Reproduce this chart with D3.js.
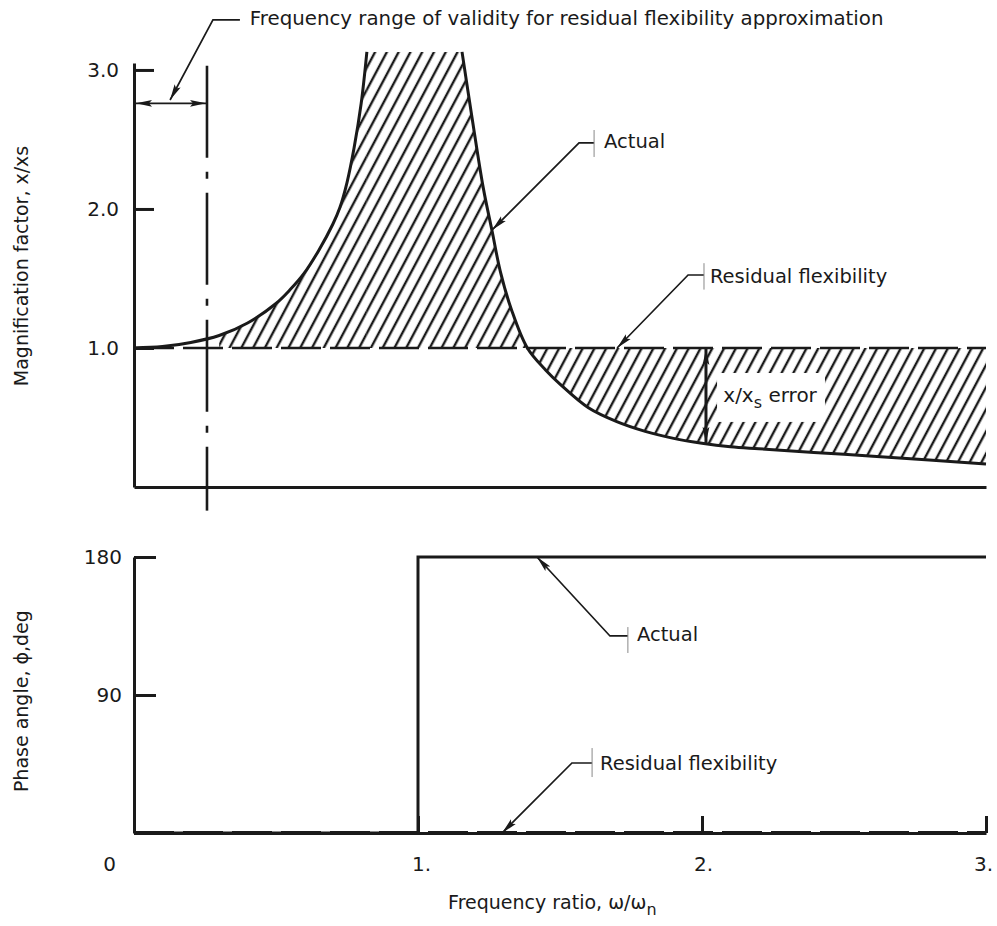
<!DOCTYPE html>
<html>
<head>
<meta charset="utf-8">
<script src="https://cdn.jsdelivr.net/npm/d3@7"></script>
<style>
  body { margin: 0; background: #fff; }
  svg { display: block; }
  text { font-family: "DejaVu Sans", sans-serif; fill: #1a1a1a; }
</style>
</head>
<body>
<div id="chart"></div>
<script>
// ratio axis (shared by both panels)
const freqTicks = [0, 1, 2, 3]
const freqLabels = ["0", "1.", "2.", "3."]
// magnification panel
const magTicks = [1, 2, 3]
const magLabels = ["1.0", "2.0", "3.0"]
// phase panel
const phaseTicks = [90, 180]
const phaseLabels = ["90", "180"]

// actual magnification [ratio, x/xs]
const actualBelow = [[0, 1.0], [0.1, 1.01], [0.2, 1.04], [0.3, 1.09], [0.4, 1.18], [0.5, 1.32], [0.55, 1.42],
  [0.6, 1.54], [0.65, 1.70], [0.7, 1.89], [0.725, 2.01], [0.75, 2.19], [0.775, 2.44], [0.8, 2.76], [0.82, 3.13]]
const actualAbove = [[1.155, 3.13], [1.19, 2.66], [1.23, 2.15], [1.26, 1.85], [1.29, 1.55], [1.33, 1.27], [1.385, 1.0],
  [1.45, 0.84], [1.5, 0.74], [1.6, 0.57], [1.7, 0.47], [1.8, 0.40], [1.9, 0.35], [2.0, 0.315], [2.1, 0.29],
  [2.2, 0.275], [2.5, 0.235], [2.8, 0.195], [3.0, 0.165]]
const residualMag = 1.0
const validityLimit = 0.257
const errorAt = 2.014

// phase angle [ratio, deg]
const phaseActual = [[0, 0], [1, 0], [1, 180], [3, 180]]
const phaseResidual = [[0, 0], [3, 0]]

const ink = "#1a1a1a"

drawChart("#chart")

function drawChart(id){
    const canvas = createCanvas()
    const svg = addSvg(id, canvas)
    const sc = addScales(canvas)
    addDefs(svg)
    drawMagnitude(svg, sc)
    drawPhase(svg, sc)
    addNotes(svg, sc)
}

function createCanvas(){
    return {
        width: 997, height: 926,
        left: 134, right: 986,
        mag: {top: 63, bottom: 487},
        phase: {top: 557, bottom: 833}
    }
}

function addSvg(id, canvas){
    return d3.select(id).append("svg")
      .attr("width", canvas.width).attr("height", canvas.height)
      .attr("viewBox", `0 0 ${canvas.width} ${canvas.height}`)
}

function addScales(canvas){
    const x = d3.scaleLinear().domain([0, 3]).range([canvas.left, canvas.right])
    const yMag = d3.scaleLinear().domain([0, 3.05]).range([canvas.mag.bottom, canvas.mag.top])
    const yPhase = d3.scaleLinear().domain([0, 180]).range([canvas.phase.bottom, canvas.phase.top])
    return {x, yMag, yPhase}
}

function addDefs(svg){
    const defs = svg.append("defs")
    defs.append("pattern").attr("id", "hatch")
      .attr("patternUnits", "userSpaceOnUse")
      .attr("width", 10.4).attr("height", 10.4)
      .attr("patternTransform", "rotate(28)")
      .append("line")
        .attr("x1", 2).attr("y1", -1).attr("x2", 2).attr("y2", 12)
        .attr("stroke", ink).attr("stroke-width", 2.4)

    defs.append("marker").attr("id", "arrow")
      .attr("viewBox", "0 0 16 8").attr("refX", 16).attr("refY", 4)
      .attr("markerUnits", "userSpaceOnUse")
      .attr("markerWidth", 16).attr("markerHeight", 8)
      .attr("orient", "auto-start-reverse")
      .append("path").attr("d", "M0,0.6 L16,4 L0,7.4 L3,4 Z").attr("fill", ink)
}

function styleAxis(g, size){
    g.select(".domain").attr("stroke", ink).attr("stroke-width", 3)
    g.selectAll(".tick line").attr("stroke", ink).attr("stroke-width", 3)
    g.selectAll(".tick text").attr("font-size", size).attr("font-family", "DejaVu Sans, sans-serif").attr("fill", ink)
}

function drawMagnitude(svg, sc){
    const {x, yMag} = sc
    const smooth = d3.curveCatmullRom.alpha(0.5)

    // hatched difference between actual and residual flexibility
    const below = actualBelow.filter(d => d[0] >= 0.25)
    const gap = [below[below.length - 1], actualAbove[0]]
    ;[[below, smooth], [gap, d3.curveLinear], [actualAbove, smooth]].forEach(([pts, curve]) => {
        svg.append("path").datum(pts)
          .attr("fill", "url(#hatch)")
          .attr("d", d3.area().x(d => x(d[0])).y0(yMag(residualMag)).y1(d => yMag(d[1])).curve(curve))
    })

    // residual flexibility approximation
    svg.append("line")
      .attr("x1", x(0)).attr("x2", x(3)).attr("y1", yMag(residualMag)).attr("y2", yMag(residualMag))
      .attr("stroke", ink).attr("stroke-width", 2.4).attr("stroke-dasharray", "40,9")

    // actual response
    const line = d3.line().x(d => x(d[0])).y(d => yMag(d[1])).curve(smooth)
    ;[actualBelow, actualAbove].forEach(branch => {
        svg.append("path").datum(branch)
          .attr("fill", "none").attr("stroke", ink).attr("stroke-width", 3)
          .attr("d", line)
    })

    // axes
    svg.append("g").attr("transform", `translate(0,${yMag(0)})`)
      .call(d3.axisBottom(x).tickValues([]).tickSizeOuter(0))
      .call(g => styleAxis(g, 20))

    svg.append("g").attr("transform", `translate(${x(0)},0)`)
      .call(d3.axisLeft(yMag).tickValues(magTicks).tickSize(-20).tickSizeOuter(0).tickPadding(15)
        .tickFormat((d, i) => magLabels[i]))
      .call(g => styleAxis(g, 20))

    svg.append("text")
      .attr("transform", `translate(28,${yMag(1.59)}) rotate(-90)`)
      .attr("text-anchor", "middle").attr("font-size", 19)
      .text("Magnification factor, x/xs")

    // limit of validity (dash-dot) and its span arrow
    svg.append("line")
      .attr("x1", x(validityLimit)).attr("x2", x(validityLimit))
      .attr("y1", yMag(3.03)).attr("y2", yMag(-0.17))
      .attr("stroke", ink).attr("stroke-width", 2.6).attr("stroke-dasharray", "92,14,7,14")

    svg.append("line")
      .attr("x1", x(0) + 2).attr("x2", x(validityLimit) - 1)
      .attr("y1", yMag(2.76)).attr("y2", yMag(2.76))
      .attr("stroke", ink).attr("stroke-width", 1.8)
      .attr("marker-start", "url(#arrow)").attr("marker-end", "url(#arrow)")

    // error box and arrow
    const g = svg.append("g")
    g.append("rect")
      .attr("x", x(2.053)).attr("y", yMag(0.82))
      .attr("width", x(2.433) - x(2.053)).attr("height", yMag(0.468) - yMag(0.82))
      .attr("fill", "#fff")
    const t = g.append("text").attr("x", x(2.075)).attr("y", yMag(0.61)).attr("font-size", 20)
    t.append("tspan").text("x/x")
    t.append("tspan").attr("dy", 6).attr("font-size", 16).text("s")
    t.append("tspan").attr("dy", -6).text(" error")

    g.append("line")
      .attr("x1", x(errorAt)).attr("x2", x(errorAt))
      .attr("y1", yMag(residualMag) + 1).attr("y2", yMag(0.31) - 1)
      .attr("stroke", ink).attr("stroke-width", 3)
      .attr("marker-start", "url(#arrow)").attr("marker-end", "url(#arrow)")
}

function drawPhase(svg, sc){
    const {x, yPhase} = sc

    svg.append("g").attr("transform", `translate(0,${yPhase(0)})`)
      .call(d3.axisBottom(x).tickValues(freqTicks).tickSize(-17).tickSizeOuter(0).tickPadding(24)
        .tickFormat((d, i) => freqLabels[i]))
      .call(g => styleAxis(g, 20))
      .call(g => g.selectAll(".tick text").attr("dx", (d, i) => [-25, 3, 1, -3][i]))

    svg.append("g").attr("transform", `translate(${x(0)},0)`)
      .call(d3.axisLeft(yPhase).tickValues(phaseTicks).tickSize(-22).tickSizeOuter(0).tickPadding(12)
        .tickFormat((d, i) => phaseLabels[i]))
      .call(g => styleAxis(g, 20))

    const line = d3.line().x(d => x(d[0])).y(d => yPhase(d[1]))
    svg.append("path").datum(phaseResidual)
      .attr("fill", "none").attr("stroke", ink).attr("stroke-width", 4.2).attr("stroke-dasharray", "40,9")
      .attr("d", line)
    svg.append("path").datum(phaseActual)
      .attr("fill", "none").attr("stroke", ink).attr("stroke-width", 3)
      .attr("d", line)

    svg.append("text")
      .attr("transform", `translate(28,${yPhase(86)}) rotate(-90)`)
      .attr("text-anchor", "middle").attr("font-size", 19)
      .text("Phase angle, \u03d5,deg")

    const xl = svg.append("text").attr("x", x(1.106)).attr("y", yPhase(0) + 76).attr("font-size", 19)
    xl.append("tspan").text("Frequency ratio, \u03c9/\u03c9")
    xl.append("tspan").attr("dy", 6).attr("font-size", 16).text("n")
}

function leader(svg, pts, tick, label, at, size){
    svg.append("path")
      .attr("d", d3.line()(pts))
      .attr("fill", "none").attr("stroke", ink).attr("stroke-width", 1.7)
      .attr("marker-end", "url(#arrow)")
    if (tick) {
        svg.append("line")
          .attr("x1", tick[0]).attr("x2", tick[0]).attr("y1", tick[1]).attr("y2", tick[2])
          .attr("stroke", "#888").attr("stroke-width", 1)
    }
    svg.append("text").attr("x", at[0]).attr("y", at[1]).attr("font-size", size).text(label)
}

function addNotes(svg, sc){
    const {x, yMag, yPhase} = sc

    leader(svg,
      [[x(0.373), yMag(3.36)], [x(0.278), yMag(3.36)], [x(0.127), yMag(2.784)]],
      null,
      "Frequency range of validity for residual flexibility approximation",
      [x(0.408), yMag(3.324)], 19.8)

    leader(svg,
      [[x(1.620), yMag(2.475)], [x(1.567), yMag(2.475)], [x(1.261), yMag(1.849)]],
      [x(1.620), yMag(2.568), yMag(2.374)],
      "Actual", [x(1.655), yMag(2.439)], 19.5)

    leader(svg,
      [[x(2.007), yMag(1.525)], [x(1.951), yMag(1.525)], [x(1.701), yMag(residualMag)]],
      [x(2.007), yMag(1.61), yMag(1.42)],
      "Residual flexibility", [x(2.028), yMag(1.468)], 19.5)

    leader(svg,
      [[x(1.739), yPhase(128.5)], [x(1.676), yPhase(128.5)], [x(1.419), yPhase(180)]],
      [x(1.739), yPhase(134.3), yPhase(117.4)],
      "Actual", [x(1.771), yPhase(125.2)], 19.5)

    leader(svg,
      [[x(1.613), yPhase(45.65)], [x(1.542), yPhase(45.65)], [x(1.296), yPhase(0)]],
      [x(1.613), yPhase(55.4), yPhase(36.5)],
      "Residual flexibility", [x(1.641), yPhase(41.1)], 19.5)
}
</script>
</body>
</html>
